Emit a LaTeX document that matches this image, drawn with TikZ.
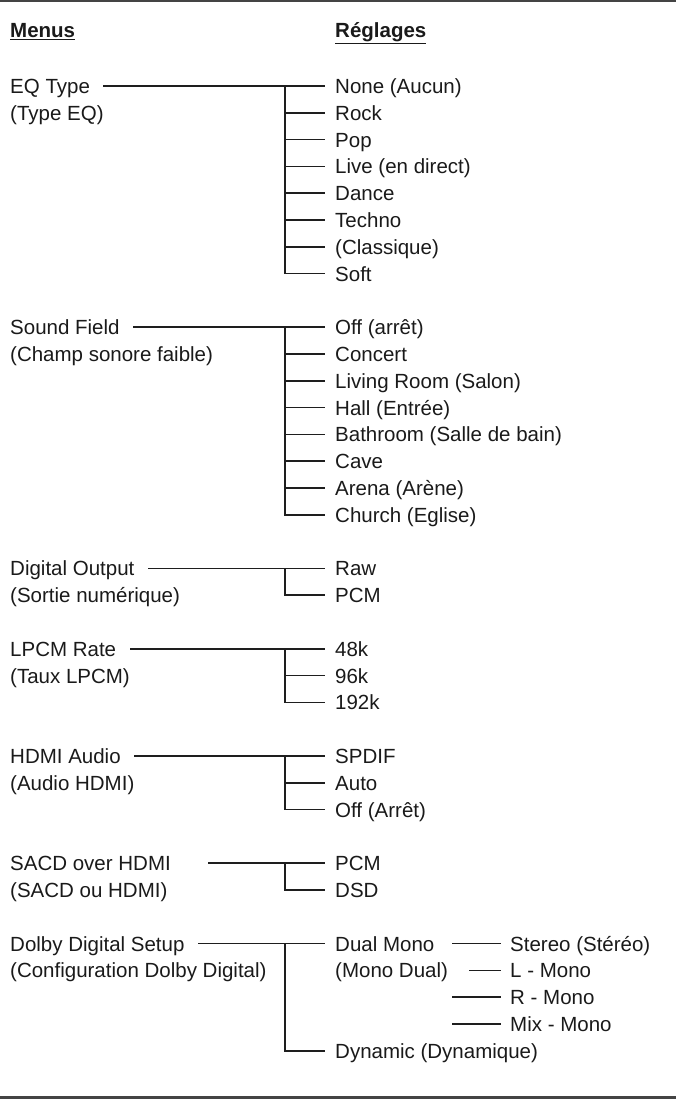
\documentclass[tikz,border=0pt]{standalone}
\usepackage{fontspec}
\setmainfont{Liberation Sans}
\definecolor{txt}{HTML}{1A1A1A}
\definecolor{lc}{HTML}{1E1E1E}
\definecolor{rule}{HTML}{444444}
\newcommand\MyGrp[7]{%
  \node[lbl] (#1m1) at (10,#2+7.5) {#3};
  \node[lbl] (#1m2) at (10,#2+34.3) {#4};
  \path (#1m1.base east) ++(#5,-7.5) coordinate (#1a);
  \coordinate (#1v) at (285,#2);
  \foreach \t [count=\i from 0] in {#6} {
    \node[lbl] (#1s\i) at (335,#2+\i*26.8+7.5) {\t};
    \coordinate (#1b\i) at (324,#2+\i*26.8);
    \coordinate (#1c\i) at (285,#2+\i*26.8);
    \draw[ln] (#1c\i) -- (#1b\i);
  }
  \draw[ln] (#1a) -- (#1b0);
  \draw[ln] (#1v) -- (#1c#7);
}
\begin{document}
\begin{tikzpicture}[x=1pt,y=-1pt,
  every node/.style={inner sep=0pt,text=txt,font=\fontsize{20.5}{24}\selectfont},
  lbl/.style={anchor=base west},
  ln/.style={line width=1.5pt,draw=lc,line cap=rect},
  hd/.style={anchor=base west,font=\fontsize{20.5}{24}\selectfont\bfseries}]
\useasboundingbox (0,0) rectangle (676,1101);
\coordinate (t1) at (0,1.2); \coordinate (t2) at (676,1.2);
\draw[line width=2.2pt,draw=rule] (t1) -- (t2);
\coordinate (u1) at (0,1097.5); \coordinate (u2) at (676,1097.5);
\draw[line width=2.2pt,draw=rule] (u1) -- (u2);
\node[hd] (hm) at (10,37.5) {\underline{Menus}};
\node[hd] (hr) at (335,37.5) {\underline{Réglages}};

\MyGrp{eq}{86}{EQ Type}{(Type EQ)}{14}{None (Aucun),Rock,Pop,Live (en direct),Dance,Techno,(Classique),Soft}{7}
\MyGrp{sf}{327.2}{Sound Field}{(Champ sonore faible)}{14}{Off (arrêt),Concert,Living Room (Salon),Hall (Entrée),Bathroom (Salle de bain),Cave,Arena (Arène),Church (Eglise)}{7}
\MyGrp{do}{568.4}{Digital Output}{(Sortie numérique)}{14}{Raw,PCM}{1}
\MyGrp{lp}{648.8}{LPCM Rate}{(Taux LPCM)}{14}{48k,96k,192k}{2}
\MyGrp{hd}{756}{HDMI Audio}{(Audio HDMI)}{14}{SPDIF,Auto,Off (Arrêt)}{2}
\MyGrp{sa}{863.2}{SACD over HDMI}{(SACD ou HDMI)}{38}{PCM,DSD}{1}

% Dolby
\node[lbl] (dm1) at (10,943.6+7.5) {Dolby Digital Setup};
\node[lbl] (dm2) at (10,970.4+7.5) {(Configuration Dolby Digital)};
\path (dm1.base east) ++(14,-7.5) coordinate (da);
\coordinate (dv) at (285,943.6);
\coordinate (db0) at (324,943.6);
\coordinate (dc4) at (285,1050.8);
\coordinate (db4) at (324,1050.8);
\draw[ln] (da) -- (db0);
\draw[ln] (dv) -- (dc4) -- (db4);
\node[lbl] (ds0) at (335,943.6+7.5) {Dual Mono};
\node[lbl] (ds1) at (335,970.4+7.5) {(Mono Dual)};
\node[lbl] (ds4) at (335,1050.8+7.5) {Dynamic (Dynamique)};
\node[lbl] (e0) at (510,943.6+7.5) {Stereo (Stéréo)};
\node[lbl] (e1) at (510,970.4+7.5) {L - Mono};
\node[lbl] (e2) at (510,997.2+7.5) {R - Mono};
\node[lbl] (e3) at (510,1024+7.5) {Mix - Mono};
\coordinate (f0) at (453,943.6); \coordinate (g0) at (500,943.6);
\coordinate (f1) at (470,970.4); \coordinate (g1) at (500,970.4);
\coordinate (f2) at (453,997.2); \coordinate (g2) at (500,997.2);
\coordinate (f3) at (453,1024); \coordinate (g3) at (500,1024);
\draw[ln] (f0) -- (g0);
\draw[ln] (f1) -- (g1);
\draw[ln] (f2) -- (g2);
\draw[ln] (f3) -- (g3);
\end{tikzpicture}
\end{document}
